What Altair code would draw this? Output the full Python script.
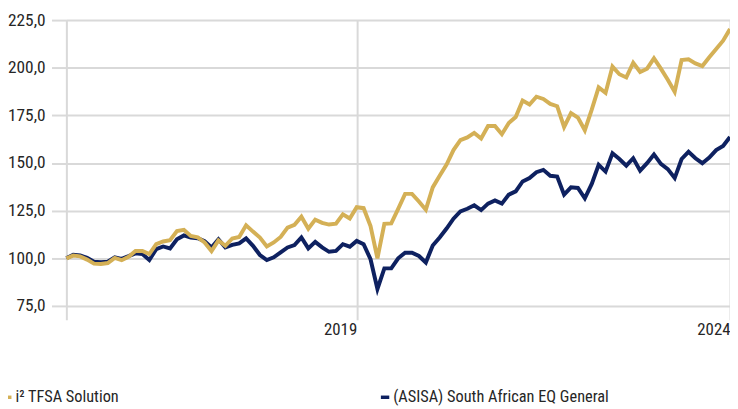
import altair as alt
import pandas as pd

# monthly observation labels (97 points)
months = [d.strftime("%Y-%m") for d in pd.date_range("2016-01-01", "2024-01-01", freq="MS")]

gold_name = "i² TFSA Solution"
navy_name = "(ASISA) South African EQ General"

gold_values = [
    100.0, 101.4, 101.0, 99.3, 97.2, 97.0, 97.5, 100.2, 99.0, 100.8,
    103.8, 103.8, 102.2, 107.4, 108.8, 109.5, 114.3, 114.9, 111.7, 111.0,
    108.3, 103.8, 109.4, 106.5, 110.4, 111.2, 117.3, 114.0, 110.9, 106.2,
    108.3, 111.2, 116.1, 117.6, 121.8, 115.5, 120.3, 118.6, 117.7, 118.2,
    123.1, 120.9, 126.8, 126.3, 116.9, 100.0, 118.1, 118.3, 125.9, 133.8,
    133.8, 129.8, 125.5, 137.2, 143.3, 149.2, 156.8, 162.0, 163.4, 165.8,
    162.9, 169.4, 169.4, 165.1, 171.0, 174.1, 182.8, 180.7, 184.8, 183.6,
    181.0, 179.8, 168.9, 176.2, 173.8, 167.2, 178.0, 189.7, 186.8, 200.6,
    196.6, 194.9, 202.6, 197.8, 199.5, 204.9, 199.5, 193.7, 187.4, 204.0,
    204.4, 202.3, 200.9, 205.5, 209.8, 214.2, 220.3,
]

navy_values = [
    100.0, 101.9, 101.5, 100.2, 98.2, 97.9, 98.2, 100.5, 99.7, 101.1,
    102.6, 102.2, 99.1, 104.8, 106.2, 105.2, 110.0, 112.0, 110.9, 110.5,
    109.0, 105.7, 110.0, 105.7, 107.0, 107.8, 110.4, 106.5, 101.7, 99.1,
    100.5, 103.1, 105.7, 106.9, 110.9, 105.2, 108.6, 105.7, 103.4, 103.9,
    107.4, 106.1, 109.1, 107.4, 99.5, 83.9, 94.7, 94.7, 100.0, 102.9,
    102.9, 101.2, 97.8, 106.7, 110.9, 115.6, 120.8, 124.6, 126.0, 127.8,
    125.3, 128.7, 130.4, 128.7, 133.4, 135.1, 140.3, 142.1, 145.2, 146.4,
    143.3, 142.9, 133.4, 137.2, 136.9, 131.5, 139.0, 149.0, 145.5, 155.1,
    152.1, 148.6, 152.5, 146.0, 149.9, 154.5, 149.5, 146.8, 142.1, 152.1,
    155.9, 152.5, 149.9, 152.8, 156.8, 158.9, 163.7,
]

y_ticks = [75, 100, 125, 150, 175, 200, 225]
x_ticks = [months[0], months[42], months[96]]

GOLD = "#D4B056"
NAVY = "#0E2160"
GRID = "#D9D9D9"
FONT = "Liberation Sans Narrow, Roboto Condensed, DejaVu Sans Condensed, Roboto, sans-serif"

df = pd.concat([
    pd.DataFrame({"month": months, "value": gold_values, "series": gold_name}),
    pd.DataFrame({"month": months, "value": navy_values, "series": navy_name}),
])

color = alt.Color(
    "series:N",
    scale=alt.Scale(domain=[gold_name, navy_name], range=[GOLD, NAVY]),
    legend=alt.Legend(
        title=None,
        orient="none",
        legendX=-68,
        legendY=373,
        direction="horizontal",
        symbolType="stroke",
        symbolSize=72,
        symbolStrokeWidth=3.5,
        labelOffset=0,
        labelLimit=500,
        columnPadding=257,
        labelFontSize=16.5,
        labelFont=FONT,
        labelColor="#262626",
    ),
)

x = alt.X(
    "month:O",
    scale=alt.Scale(padding=0),
    axis=alt.Axis(
        title=None,
        values=x_ticks,
        labelExpr="datum.value == '" + months[0] + "' ? '' : slice(datum.value, 0, 4)",
        labelAngle=0,
        labelAlign="right",
        labelBaseline="top",
        labelPadding=2,
        labelFontSize=17,
        labelFont=FONT,
        labelColor="#262626",
        grid=True,
        gridColor=GRID,
        gridWidth=2,
        tickSize=14,
        tickColor=GRID,
        tickWidth=2,
        domain=False,
    ),
)

y = alt.Y(
    "value:Q",
    scale=alt.Scale(domain=[75, 225], nice=False, zero=False),
    axis=alt.Axis(
        title=None,
        values=y_ticks,
        labelExpr="replace(format(datum.value, '.1f'), '.', ',')",
        labelPadding=6.5,
        labelFontSize=17.5,
        labelFont=FONT,
        labelColor="#262626",
        grid=True,
        gridColor=GRID,
        gridWidth=2,
        tickSize=15,
        tickColor=GRID,
        tickWidth=2,
        domain=False,
    ),
)

base = alt.Chart(df).mark_line(strokeWidth=4).encode(x=x, y=y, color=color)

navy_layer = base.transform_filter(alt.datum.series == navy_name)
gold_layer = base.transform_filter(alt.datum.series == gold_name)

chart = alt.layer(navy_layer, gold_layer).properties(
    width=671,
    height=289,
    autosize=alt.AutoSizeParams(type="none"),
    padding={"left": 59, "top": 10, "right": 0, "bottom": 102},
).configure_view(stroke=None).configure(background="white")

chart.save("out.html", embed_options={"renderer": "svg", "actions": False})
